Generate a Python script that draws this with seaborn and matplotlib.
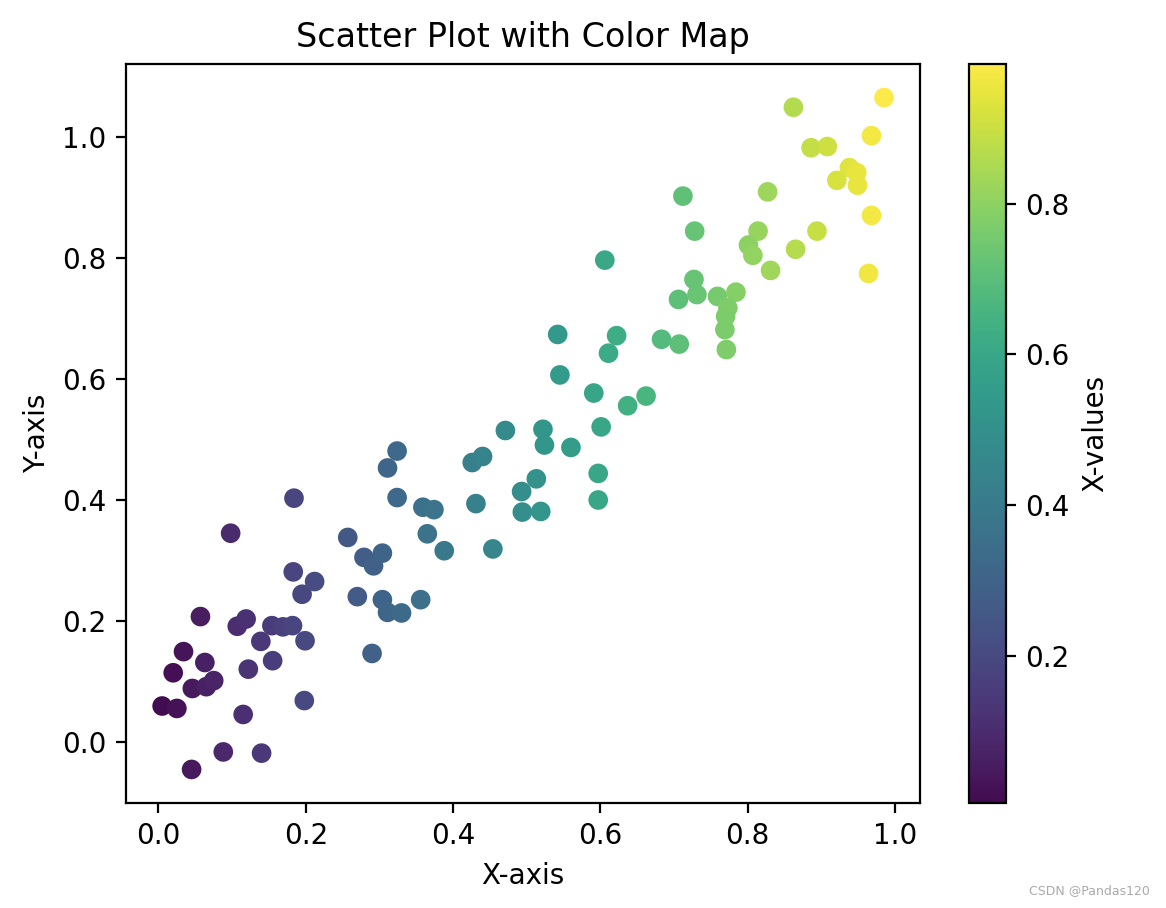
import numpy as np
import pandas as pd
import matplotlib
matplotlib.use("Agg")
import matplotlib.pyplot as plt
from matplotlib.colors import ListedColormap
import seaborn as sns

x_vals = [0.005, 0.025, 0.020, 0.034, 0.045, 0.046, 0.057, 0.063, 0.065, 0.075,
          0.088, 0.098, 0.107, 0.119, 0.115, 0.122, 0.139, 0.140, 0.154, 0.155,
          0.169, 0.182, 0.183, 0.184, 0.195, 0.199, 0.198, 0.212, 0.257, 0.270,
          0.279, 0.290, 0.292, 0.304, 0.304, 0.311, 0.330, 0.356, 0.311, 0.324,
          0.324, 0.359, 0.374, 0.365, 0.388, 0.426, 0.440, 0.431, 0.454,
          0.471, 0.513, 0.493, 0.494, 0.519, 0.522, 0.524, 0.560, 0.597, 0.597,
          0.601, 0.591, 0.545, 0.542, 0.637, 0.662,
          0.606, 0.611, 0.622, 0.683, 0.707, 0.706, 0.727, 0.731, 0.728, 0.712,
          0.759, 0.784, 0.773, 0.770, 0.769, 0.771,
          0.985, 0.862, 0.968, 0.886, 0.908, 0.938, 0.948, 0.921, 0.949, 0.827,
          0.968, 0.814, 0.894, 0.801, 0.807, 0.865, 0.831, 0.964]
y_vals = [0.059, 0.055, 0.114, 0.149, -0.046, 0.088, 0.207, 0.131, 0.091, 0.101,
          -0.017, 0.345, 0.191, 0.203, 0.045, 0.120, 0.166, -0.019, 0.192, 0.134,
          0.190, 0.192, 0.281, 0.403, 0.244, 0.167, 0.068, 0.265, 0.338, 0.240,
          0.305, 0.146, 0.291, 0.312, 0.235, 0.214, 0.213, 0.235, 0.453, 0.481,
          0.404, 0.388, 0.384, 0.344, 0.316, 0.462, 0.472, 0.394, 0.319,
          0.515, 0.435, 0.414, 0.380, 0.381, 0.517, 0.491, 0.487, 0.444, 0.400,
          0.521, 0.577, 0.607, 0.674, 0.556, 0.572,
          0.797, 0.643, 0.672, 0.666, 0.658, 0.732, 0.765, 0.740, 0.845, 0.903,
          0.737, 0.744, 0.718, 0.704, 0.682, 0.649,
          1.066, 1.050, 1.003, 0.983, 0.985, 0.950, 0.942, 0.929, 0.921, 0.910,
          0.871, 0.845, 0.845, 0.822, 0.805, 0.815, 0.780, 0.775]

df = pd.DataFrame({"x": x_vals, "y": y_vals})

# viridis, slightly desaturated toward equal-luminance grey (as in the reference)
base = plt.get_cmap("viridis")(np.linspace(0, 1, 256))[:, :3]
lum = (base @ np.array([0.299, 0.587, 0.114]))[:, None]
muted = np.clip(lum + 0.82 * (base - lum) + 0.02, 0, 1)
cmap = ListedColormap(muted, name="viridis_muted")

fig = plt.figure(figsize=(5.83, 4.54), dpi=200)
ax = fig.add_axes([0.1081, 0.1156, 0.681, 0.8139])
cax = fig.add_axes([0.831, 0.1156, 0.0317, 0.8139])

norm = plt.Normalize(df["x"].min(), df["x"].max())
sns.scatterplot(data=df, x="x", y="y", hue="x", palette=cmap, hue_norm=norm,
                s=50, linewidth=0, legend=False, ax=ax)

ax.set_title("Scatter Plot with Color Map", fontsize=12)
ax.set_xlabel("X-axis")
ax.set_ylabel("Y-axis")
ax.set_xticks([0.0, 0.2, 0.4, 0.6, 0.8, 1.0])
ax.set_yticks([0.0, 0.2, 0.4, 0.6, 0.8, 1.0])

sm = plt.cm.ScalarMappable(cmap=cmap, norm=norm)
sm.set_array([])
cb = fig.colorbar(sm, cax=cax)
cb.set_label("X-values")
cb.set_ticks([0.2, 0.4, 0.6, 0.8])

fig.text(0.986, 0.012, "CSDN @Pandas120", ha="right", va="bottom",
         fontsize=4.5, color="#aaaaaa")

fig.savefig("out.png", dpi=200)
